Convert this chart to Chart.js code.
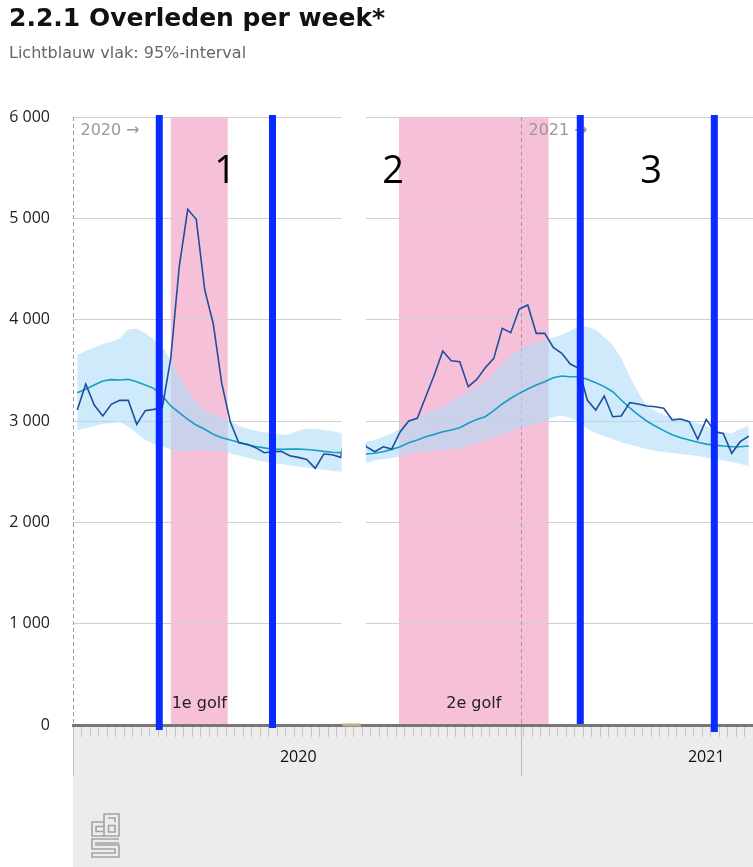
<!DOCTYPE html>
<html><head><meta charset="utf-8">
<script src="https://cdn.jsdelivr.net/npm/chart.js@4"></script>
<style>html,body{margin:0;padding:0;background:#fff;overflow:hidden}#wrap{position:relative;width:753px;height:867px}</style>
</head><body><div id="wrap"><canvas id="c" width="753" height="867"></canvas></div>
<script>
// ---- data ----
const weeks2020 = [1,2,3,4,5,6,7,8,9,10,11,12,13,14,15,16,17,18,19,20,21,22,23,24,25,26,27,28,29,30,31,32,33,34,35,36,37,38,39,40,41,42,43,44,45,46,47,48,49,50,51,52,53];
const weeks2021 = [1,2,3,4,5,6,7,8,9,10,11,12,13,14,15,16,17,18,19,20,21,22,23,24,25,26,27];
const categories = weeks2020.map(w => '2020 week ' + w).concat(weeks2021.map(w => '2021 week ' + w));

const observed = [3108,3365,3158,3049,3165,3204,3204,2967,3102,3115,3130,3618,4523,5089,4990,4293,3960,3372,2993,2786,
  2770,2737,2687,2697,2700,2657,2641,2621,2533,2674,2667,2641,3100,2900,2746,2697,2746,2724,2894,3000,
  3026,3240,3454,3691,3595,3585,3339,3411,3526,3618,3914,3871,4105,4145,3865,3865,3727,3668,3562,3520,
  3207,3108,3247,3042,3049,3181,3168,3148,3141,3125,3010,3020,2993,2819,3016,2894,2878,2681,2796,2850];
const expected = [3279,3313,3355,3395,3408,3404,3411,3388,3355,3322,3250,3148,3082,3017,2960,2918,2870,2835,2812,2790,
  2765,2748,2735,2722,2720,2722,2724,2718,2712,2700,2692,2688,2685,2680,2674,2681,2697,2720,2746,2786,
  2812,2845,2868,2894,2911,2934,2977,3016,3042,3102,3168,3224,3273,3316,3355,3388,3427,3444,3437,3437,
  3411,3378,3339,3289,3207,3130,3060,3000,2950,2905,2865,2835,2812,2790,2772,2762,2753,2746,2746,2753];
const bandHigh = [3651,3694,3723,3760,3783,3816,3904,3914,3865,3806,3733,3602,3437,3306,3190,3108,3070,3030,3000,2950,
  2925,2905,2890,2880,2865,2870,2905,2925,2920,2910,2900,2885,2880,2870,2796,2812,2845,2878,2928,2980,
  3030,3075,3110,3141,3190,3240,3290,3339,3400,3470,3560,3651,3700,3750,3780,3800,3825,3850,3890,3940,
  3930,3900,3830,3750,3620,3440,3280,3150,3100,3060,3040,3026,3000,2977,2950,2911,2890,2878,2920,2955];
const bandLow = [2911,2928,2950,2970,2977,2990,2944,2878,2812,2773,2746,2720,2705,2710,2714,2710,2705,2697,2680,2660,
  2640,2615,2598,2585,2575,2560,2550,2540,2530,2520,2510,2500,2495,2490,2582,2610,2625,2635,2650,2680,
  2690,2700,2708,2714,2722,2730,2755,2780,2810,2835,2870,2900,2930,2950,2975,2995,3040,3055,3030,2990,
  2920,2880,2850,2820,2790,2765,2745,2720,2705,2695,2685,2675,2665,2655,2640,2630,2610,2595,2575,2555];

const yTicks = [0,1000,2000,3000,4000,5000,6000];
const yearLabels = ['2020','2021'];
const yearLabelIndex = [26, 74];
const yearStarts = [{label:'2020 \u2192', at:-0.5}, {label:'2021 \u2192', at:52.2}];
const waves = [{label:'1e golf', from:11.0, to:17.7}, {label:'2e golf', from:37.85, to:55.45}];
const hiddenGap = {from:31.1, to:33.95};
const markers = [{at:9.65, ext:5}, {at:22.97, ext:3}, {at:59.18, ext:-1}, {at:74.95, ext:7}];
const markerNumbers = [{text:'1', x:17.4, y:5460}, {text:'2', x:37.15, y:5460}, {text:'3', x:67.5, y:5460}];

const FONT = '"Open Sans", "Noto Sans", sans-serif';
const TFONT = '"DejaVu Sans", sans-serif';

function drawLogo(ctx, x, y) {
  ctx.save();
  ctx.strokeStyle = '#a3a3a3';
  ctx.lineWidth = 1.6;
  ctx.beginPath();
  ctx.moveTo(x+13, y+9); ctx.lineTo(x+1, y+9); ctx.lineTo(x+1, y+23); ctx.lineTo(x+13, y+23);
  ctx.moveTo(x+13, y+13.5); ctx.lineTo(x+5, y+13.5); ctx.lineTo(x+5, y+18.5); ctx.lineTo(x+13, y+18.5);
  ctx.moveTo(x+13, y+23); ctx.lineTo(x+13, y+1); ctx.lineTo(x+28, y+1); ctx.lineTo(x+28, y+23); ctx.lineTo(x+13, y+23);
  ctx.moveTo(x+17, y+5); ctx.lineTo(x+24, y+5); ctx.lineTo(x+24, y+9);
  ctx.rect(x+17.5, y+12.5, 6.5, 6.5);
  ctx.moveTo(x+28, y+26); ctx.lineTo(x+1, y+26); ctx.lineTo(x+1, y+36); ctx.lineTo(x+24, y+36); ctx.lineTo(x+24, y+40); ctx.lineTo(x+1, y+40); ctx.lineTo(x+1, y+44); ctx.lineTo(x+28, y+44); ctx.lineTo(x+28, y+32); ctx.lineTo(x+5, y+32); ctx.lineTo(x+5, y+30); ctx.lineTo(x+28, y+30);
  ctx.stroke();
  ctx.restore();
}

const overlay = {
  id: 'overlay',
  beforeDraw(chart) {
    const {ctx, chartArea: a, scales: {x}} = chart;
    ctx.save();
    ctx.fillStyle = '#ececec';
    ctx.fillRect(a.left, a.bottom + 2, chart.width - a.left, chart.height - a.bottom - 2);
    ctx.fillStyle = '#f7c0d9';
    waves.forEach(w => {
      const x0 = x.getPixelForValue(w.from), x1 = x.getPixelForValue(w.to);
      ctx.fillRect(x0, a.top, x1 - x0, a.bottom - a.top);
    });
    ctx.restore();
  },
  beforeDatasetsDraw(chart) {
    const {ctx, chartArea: a, scales: {x}} = chart;
    ctx.save();
    yearStarts.forEach(ys => {
      const px = Math.round(x.getPixelForValue(ys.at)) + 0.5;
      ctx.strokeStyle = '#9a9a9a';
      ctx.lineWidth = 1;
      ctx.setLineDash([4, 3]);
      ctx.beginPath(); ctx.moveTo(px, a.top); ctx.lineTo(px, a.bottom); ctx.stroke();
      ctx.setLineDash([]);
      ctx.strokeStyle = '#bdbdbd';
      ctx.beginPath(); ctx.moveTo(px, a.bottom + 2); ctx.lineTo(px, a.bottom + 51); ctx.stroke();
      ctx.fillStyle = '#999';
      ctx.font = '16px ' + TFONT;
      ctx.textAlign = 'left'; ctx.textBaseline = 'middle';
      ctx.fillText(ys.label, px + 7, a.top + 14);
    });
    ctx.restore();
  },
  afterDatasetsDraw(chart) {
    const {ctx, chartArea: a, scales: {x, y}} = chart;
    ctx.save();
    const g0 = x.getPixelForValue(hiddenGap.from), g1 = x.getPixelForValue(hiddenGap.to);
    ctx.fillStyle = '#fff';
    ctx.fillRect(g0, a.top - 4, g1 - g0, a.bottom - a.top + 2);
    ctx.fillStyle = '#c2ab92';
    ctx.fillRect(g0 + 1, a.bottom - 1.5, g1 - g0 - 6, 3);
    ctx.fillStyle = '#222';
    ctx.font = '16px ' + TFONT;
    ctx.textAlign = 'center'; ctx.textBaseline = 'middle';
    waves.forEach(w => {
      const cx = (x.getPixelForValue(w.from) + x.getPixelForValue(w.to)) / 2;
      ctx.fillText(w.label, cx, a.bottom - 21);
    });
    ctx.fillStyle = '#0a2bff';
    markers.forEach(m => {
      const px = x.getPixelForValue(m.at);
      ctx.fillRect(px - 3.5, a.top - 2, 7, a.bottom - a.top + 2 + m.ext);
    });
    ctx.fillStyle = '#000';
    ctx.font = '38px ' + FONT;
    markerNumbers.forEach(n => {
      ctx.fillText(n.text, x.getPixelForValue(n.x), y.getPixelForValue(n.y));
    });
    drawLogo(ctx, a.left + 18, a.bottom + 88);
    ctx.restore();
  }
};

new Chart(document.getElementById('c'), {
  type: 'line',
  data: {
    labels: categories,
    datasets: [
      {label: 'Overledenen', data: observed, borderColor: '#1d4f9e', borderWidth: 1.6, pointRadius: 0, fill: false, tension: 0},
      {label: 'Verwacht', data: expected, borderColor: '#169fc2', borderWidth: 1.6, pointRadius: 0, fill: false, tension: 0},
      {label: 'ondergrens', data: bandLow, borderWidth: 0, borderColor: 'rgba(0,0,0,0)', pointRadius: 0, fill: false},
      {label: '95%-interval', data: bandHigh, borderWidth: 0, borderColor: 'rgba(0,0,0,0)', pointRadius: 0, fill: '-1', backgroundColor: 'rgba(175,220,247,0.6)'}
    ]
  },
  options: {
    responsive: false,
    animation: false,
    devicePixelRatio: 1,
    layout: {padding: {left: 9, right: 0, top: 0, bottom: 0}},
    plugins: {
      legend: {display: false},
      tooltip: {enabled: false},
      title: {display: true, text: '2.2.1 Overleden per week*', align: 'start', color: '#111',
        font: {family: TFONT, size: 25, weight: 'bold'}, padding: {top: 4, bottom: 2}},
      subtitle: {display: true, text: 'Lichtblauw vlak: 95%-interval', align: 'start', color: '#666',
        font: {family: TFONT, size: 16}, padding: {top: 8.4, bottom: 53.4}}
    },
    scales: {
      x: {
        type: 'category',
        offset: true,
        grid: {display: true, drawOnChartArea: false, drawTicks: true, tickLength: 12, color: '#c4c4c4', offset: true},
        border: {display: true, color: '#777', width: 3},
        ticks: {autoSkip: false, maxRotation: 0, minRotation: 0, padding: 0, color: '#111',
          font: {family: FONT, size: 16, lineHeight: 2.5},
          callback: (v, i) => { const k = yearLabelIndex.indexOf(i); return k >= 0 ? yearLabels[k] : ''; }},
        afterFit: s => { s.height = 142; }
      },
      y: {
        min: 0, max: 6000,
        afterBuildTicks: s => { s.ticks = yTicks.map(v => ({value: v})); },
        grid: {color: '#cfcfcf', drawTicks: false},
        border: {display: false},
        ticks: {padding: 23, color: '#222', font: {family: FONT, size: 16},
          callback: v => String(v).replace(/\B(?=(\d{3})+(?!\d))/g, ' ')},
        afterFit: s => { s.width = 64; }
      }
    }
  },
  plugins: [overlay]
});
</script>
</body></html>
